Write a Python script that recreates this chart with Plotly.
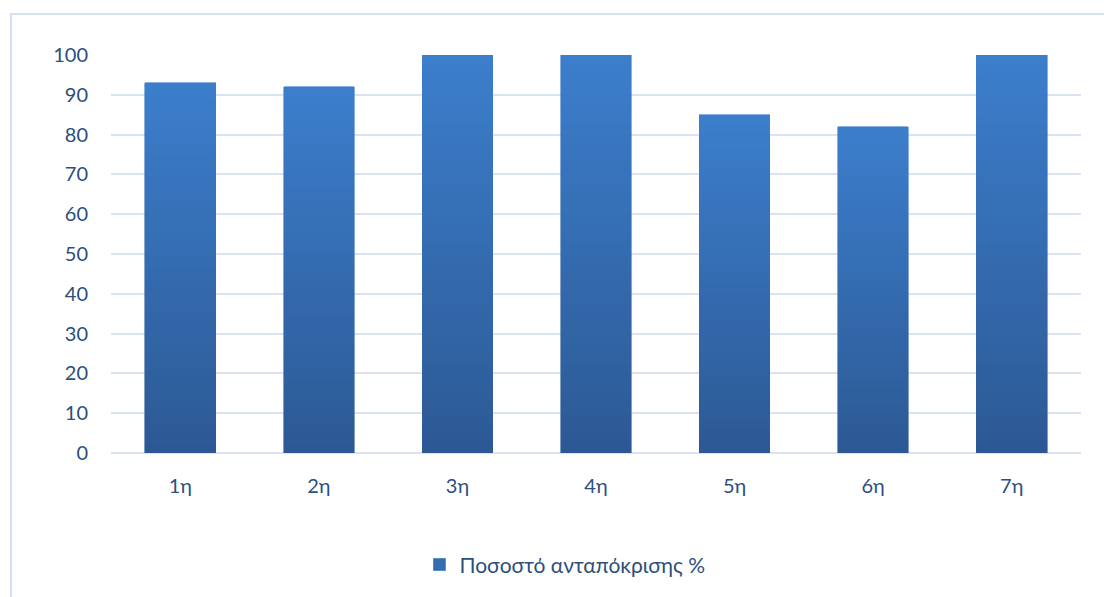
import plotly.graph_objects as go

categories = ["1η", "2η", "3η", "4η", "5η", "6η", "7η"]
response_rate = [93, 92, 100, 100, 85, 82, 100]
series_name = "Ποσοστό ανταπόκρισης %"
y_ticks = [0, 10, 20, 30, 40, 50, 60, 70, 80, 90, 100]

# vertical gradient: each bar is built from stacked slices of equal share
N_SLICES = 40
bottom_rgb = (44, 89, 148)
top_rgb = (60, 126, 204)
text_color = "#2b4f7e"
grid_color = "#d9e3f1"

fig = go.Figure()
for i in range(N_SLICES):
    t = (i + 0.5) / N_SLICES
    r, g, b = (round(bottom_rgb[k] + (top_rgb[k] - bottom_rgb[k]) * t) for k in range(3))
    col = f"rgb({r},{g},{b})"
    fig.add_trace(go.Bar(
        x=categories,
        y=[v / N_SLICES for v in response_rate],
        marker=dict(color=col, line=dict(color=col, width=0.6)),
        name=series_name,
        showlegend=(i == N_SLICES // 2),
        hoverinfo="skip",
    ))

# outer chart frame
fig.add_shape(type="rect", xref="paper", yref="paper",
              x0=-0.1031, x1=1.2, y0=-0.6, y1=1.103,
              line=dict(color="#d5e2f3", width=2), fillcolor="rgba(0,0,0,0)",
              layer="below")

fig.update_layout(
    width=1104, height=597,
    margin=dict(l=111, r=23, t=55, b=144),
    paper_bgcolor="white", plot_bgcolor="white",
    barmode="stack", bargap=0.49,
    font=dict(family="Lato, 'Open Sans', sans-serif", size=20, color=text_color),
    showlegend=True,
    legend=dict(orientation="h", x=0.468, xanchor="center", y=-0.281, yanchor="middle",
                font=dict(size=21, color=text_color), itemwidth=30,
                bgcolor="rgba(0,0,0,0)"),
    xaxis=dict(showgrid=False, showline=False, ticks="", ticklabelstandoff=19,
               tickfont=dict(size=20, color=text_color)),
    yaxis=dict(range=[0, 100], tickvals=y_ticks, showgrid=True, gridcolor=grid_color,
               gridwidth=1.5, zeroline=True, zerolinecolor=grid_color, zerolinewidth=1.5,
               showline=False, ticks="", ticklabelstandoff=22,
               tickfont=dict(size=20, color=text_color)),
)

fig.write_html("out.html")
